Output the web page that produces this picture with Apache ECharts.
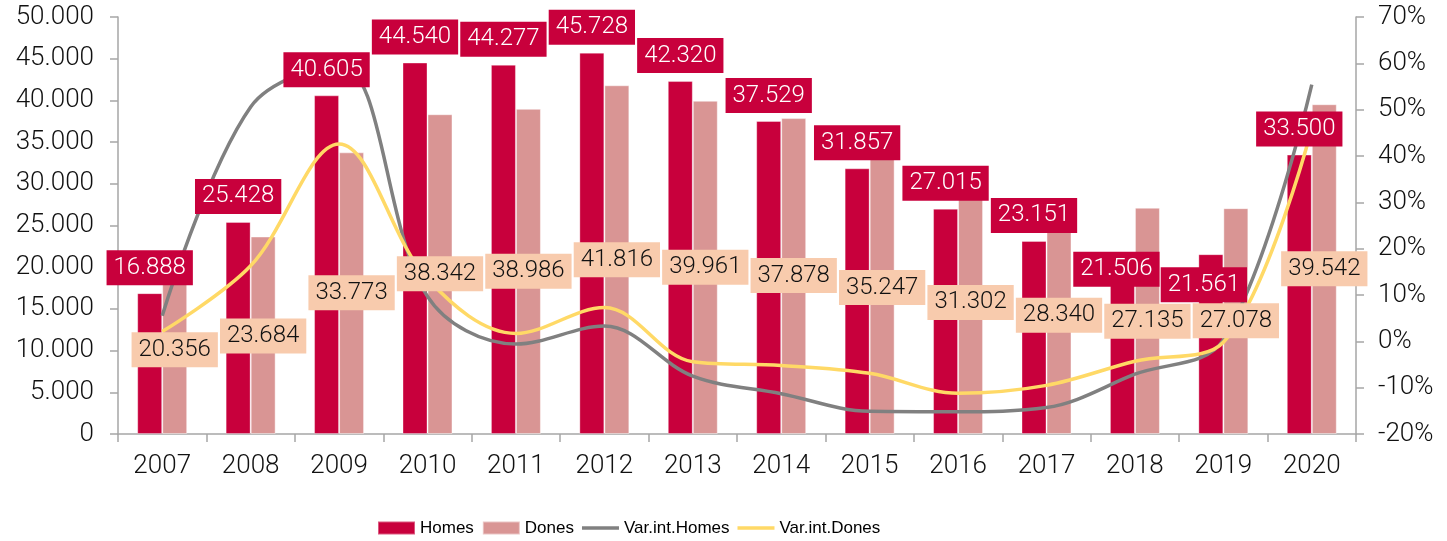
<!DOCTYPE html>
<html>
<head>
<meta charset="utf-8">
<title>Homes / Dones</title>
<script src="https://cdn.jsdelivr.net/npm/echarts@6/dist/echarts.min.js"></script>
<style>
    html, body { margin: 0; padding: 0; background: #fff; }
    #main { width: 1447px; height: 541px; }
</style>
</head>
<body>
<div id="main"></div>
<script>
// dades
var years = ['2007', '2008', '2009', '2010', '2011', '2012', '2013', '2014', '2015', '2016', '2017', '2018', '2019', '2020'];
var homes = [16888, 25428, 40605, 44540, 44277, 45728, 42320, 37529, 31857, 27015, 23151, 21506, 21561, 33500];
var dones = [20356, 23684, 33773, 38342, 38986, 41816, 39961, 37878, 35247, 31302, 28340, 27135, 27078, 39542];
var varHomes = [5.5, 50.6, 59.7, 9.7, -0.6, 3.3, -7.5, -11.3, -15.1, -15.2, -14.3, -7.1, 0.3, 55.4];
var varDones = [2.1, 16.3, 42.6, 13.5, 1.7, 7.3, -4.4, -5.2, -6.9, -11.2, -9.5, -4.3, -0.2, 46.0];
var leftTicks = { min: 0, max: 50000, step: 5000 };
var rightTicks = { min: -20, max: 70, step: 10 };

// desplaçament manual de les etiquetes (px), com a l'original
var homesLabelShift = [[0,0],[0,0],[0,0],[0,0],[0,0],[0,0],[0,0],[0,0],[0,0],[0,0],[0,0],[-6,40],[-7,56],[0,0]];
var donesLabelShift = [111, 125, 166, 185, 188, 200, 192, 183, 173, 155, 143, 139, 138, 190];

var RED = '#C8003C';
var PINK = '#D99594';
var GREY = '#808080';
var YELLOW = '#FFD966';
var AXIS = '#A6A6A6';
var FONT = 'Roboto, "Noto Sans", sans-serif';
var LINE_ICON = 'path://M0,0 L37,0 L37,3.5 L0,3.5 Z';

function miles(v) {
    return String(v).replace(/\B(?=(\d{3})+(?!\d))/g, '.');
}

var homesLbl = homes.map(function (v, i) {
    return { value: v, label: { offset: homesLabelShift[i] } };
});
var donesLbl = dones.map(function (v, i) {
    return { value: v, label: { offset: [0, donesLabelShift[i]] } };
});

var boxLabel = {
    show: true,
    position: 'top',
    distance: 8,
    fontFamily: FONT,
    fontWeight: 300,
    fontSize: 24,
    lineHeight: 25,
    padding: [5, 7],
    formatter: function (p) { return miles(p.value); }
};

var axisText = { color: '#111', fontFamily: FONT, fontWeight: 300, fontSize: 26 };

var options = {
    animation: false,
    grid: { left: 118, right: 91, top: 17, bottom: 107 },
    legend: {
        left: 377,
        top: 515,
        padding: 0,
        itemWidth: 37,
        itemHeight: 13,
        itemGap: 8,
        data: [
            { name: 'Homes', icon: 'rect' },
            { name: 'Dones', icon: 'rect' },
            { name: 'Var.int.Homes', icon: LINE_ICON },
            { name: 'Var.int.Dones', icon: LINE_ICON }
        ],
        textStyle: {
            fontFamily: '"Liberation Sans", Arial, sans-serif',
            fontSize: 17,
            lineHeight: 26,
            color: '#000'
        }
    },
    xAxis: [{
        type: 'category',
        data: years,
        axisLine: { lineStyle: { color: AXIS, width: 1.5 } },
        axisTick: { show: true, length: 8, lineStyle: { color: AXIS, width: 1.5 } },
        axisLabel: Object.assign({ margin: 19 }, axisText)
    }, {
        type: 'category',
        data: years,
        show: false
    }],
    yAxis: [{
        type: 'value',
        min: leftTicks.min,
        max: leftTicks.max,
        interval: leftTicks.step,
        splitLine: { show: false },
        axisLine: { show: true, lineStyle: { color: AXIS, width: 1.5 } },
        axisTick: { show: true, length: 8, lineStyle: { color: AXIS, width: 1.5 } },
        axisLabel: Object.assign({ margin: 24, formatter: miles }, axisText)
    }, {
        type: 'value',
        min: rightTicks.min,
        max: rightTicks.max,
        interval: rightTicks.step,
        splitLine: { show: false },
        axisLine: { show: true, lineStyle: { color: AXIS, width: 1.5 } },
        axisTick: { show: true, length: 8, lineStyle: { color: AXIS, width: 1.5 } },
        axisLabel: Object.assign({ margin: 22, formatter: '{value}%' }, axisText)
    }],
    series: [
        {
            name: 'Homes',
            type: 'bar',
            barWidth: 25,
            barGap: 0,
            z: 2,
            data: homes,
            itemStyle: { color: RED, borderColor: 'rgba(255,255,255,0.35)', borderWidth: 1 }
        },
        {
            name: 'Dones',
            type: 'bar',
            barWidth: 25,
            barGap: 0,
            z: 2,
            data: dones,
            itemStyle: { color: PINK, borderColor: 'rgba(255,255,255,0.45)', borderWidth: 1 }
        },
        {
            name: 'Var.int.Homes',
            type: 'line',
            yAxisIndex: 1,
            smooth: 0.35,
            symbol: 'none',
            z: 3,
            data: varHomes,
            itemStyle: { color: GREY },
            lineStyle: { color: GREY, width: 3.5 }
        },
        {
            name: 'Var.int.Dones',
            type: 'line',
            yAxisIndex: 1,
            smooth: 0.35,
            symbol: 'none',
            z: 3,
            data: varDones,
            itemStyle: { color: YELLOW },
            lineStyle: { color: YELLOW, width: 3.5 }
        },
        // etiquetes per sobre de les línies
        {
            name: 'homesLabels',
            type: 'bar',
            xAxisIndex: 1,
            barWidth: 25,
            barGap: 0,
            z: 10,
            silent: true,
            data: homesLbl,
            itemStyle: { color: 'rgba(0,0,0,0)' },
            label: Object.assign({}, boxLabel, { color: '#fff', backgroundColor: RED })
        },
        {
            name: 'donesLabels',
            type: 'bar',
            xAxisIndex: 1,
            barWidth: 25,
            barGap: 0,
            z: 10,
            silent: true,
            data: donesLbl,
            itemStyle: { color: 'rgba(0,0,0,0)' },
            label: Object.assign({}, boxLabel, { color: '#111', backgroundColor: '#F8CBAD' })
        }
    ]
};

var myChart = echarts.init(document.getElementById('main'));
myChart.setOption(options);
</script>
</body>
</html>
